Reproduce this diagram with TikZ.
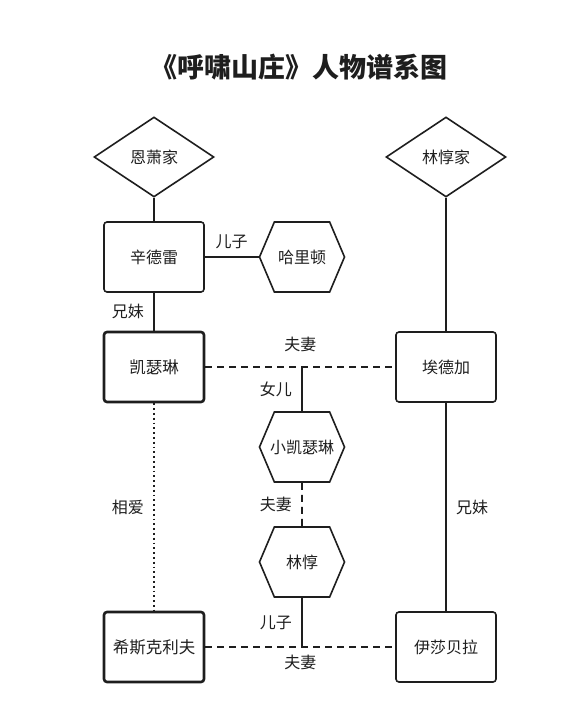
\documentclass[tikz,border=0pt]{standalone}
\usepackage{fontspec}
\setmainfont{Noto Sans CJK SC}
\usetikzlibrary{shapes.geometric, shapes.symbols, positioning}
\definecolor{ink}{HTML}{1E1E1E}

\begin{document}
\begin{tikzpicture}[
  x=1pt, y=-1pt,
  font=\fontsize{16}{18}\selectfont, text=ink, draw=ink,
  family/.style={draw, diamond, minimum width=120pt, minimum height=80pt, inner sep=0pt, line width=1.6pt},
  person/.style={draw, rounded corners=3pt, minimum width=100pt, minimum height=70pt, line width=1.6pt},
  lead/.style={person, line width=2.6pt, font=\fontsize{16.5}{18}\selectfont},
  kid/.style={draw, signal, signal to=east and west, signal pointer angle=134, minimum width=85pt, minimum height=70pt, inner xsep=-7pt, inner ysep=0pt, line width=1.6pt},
  tie/.style={line width=1.8pt},
  wed/.style={tie, dash pattern=on 7pt off 5pt},
  love/.style={line width=1.8pt, dash pattern=on 1.8pt off 3pt}
]
\useasboundingbox (0,0) rectangle (584,719);

\node[font=\fontsize{27}{30}\selectfont\bfseries] (title) at (299,67) {《呼啸山庄》人物谱系图};

\node[family] (enshaw) at (154,157) {恩萧家};
\node[family] (lintonfam) at (446,157) {林惇家};

\node[person] (hindley) at (154,257) {辛德雷};
\node[kid] (hareton) at (302,257) {哈里顿};
\node[lead] (catherine) at (154,367) {凯瑟琳};
\node[person] (edgar) at (446,367) {埃德加};
\node[kid] (cathy) at (302,447) {小凯瑟琳};
\node[kid] (linton) at (302,562) {林惇};
\node[lead] (heathcliff) at (154,647) {希斯克利夫};
\node[person] (isabella) at (446,647) {伊莎贝拉};

\coordinate (wedtop) at (302,367);
\coordinate (wedbot) at (302,647);

\draw[tie] (enshaw) -- (hindley);
\draw[tie] (lintonfam) -- (edgar);
\draw[tie] (hindley) -- node[above=4pt] {儿子} (hareton);
\draw[tie] (hindley) -- node[left=6pt] {兄妹} (catherine);
\draw[wed] (catherine) -- node[above=11pt] {夫妻} (edgar);
\draw[tie] (wedtop) -- node[left=6pt] {女儿} (cathy);
\draw[wed] (cathy) -- node[left=6pt] {夫妻} (linton);
\draw[tie] (linton) -- node[left=6pt] {儿子} (wedbot);
\draw[love] (catherine) -- node[left=6pt] {相爱} (heathcliff);
\draw[tie] (edgar) -- node[right=6pt] {兄妹} (isabella);
\draw[wed] (heathcliff) -- node[below=4pt] {夫妻} (isabella);
\end{tikzpicture}
\end{document}
